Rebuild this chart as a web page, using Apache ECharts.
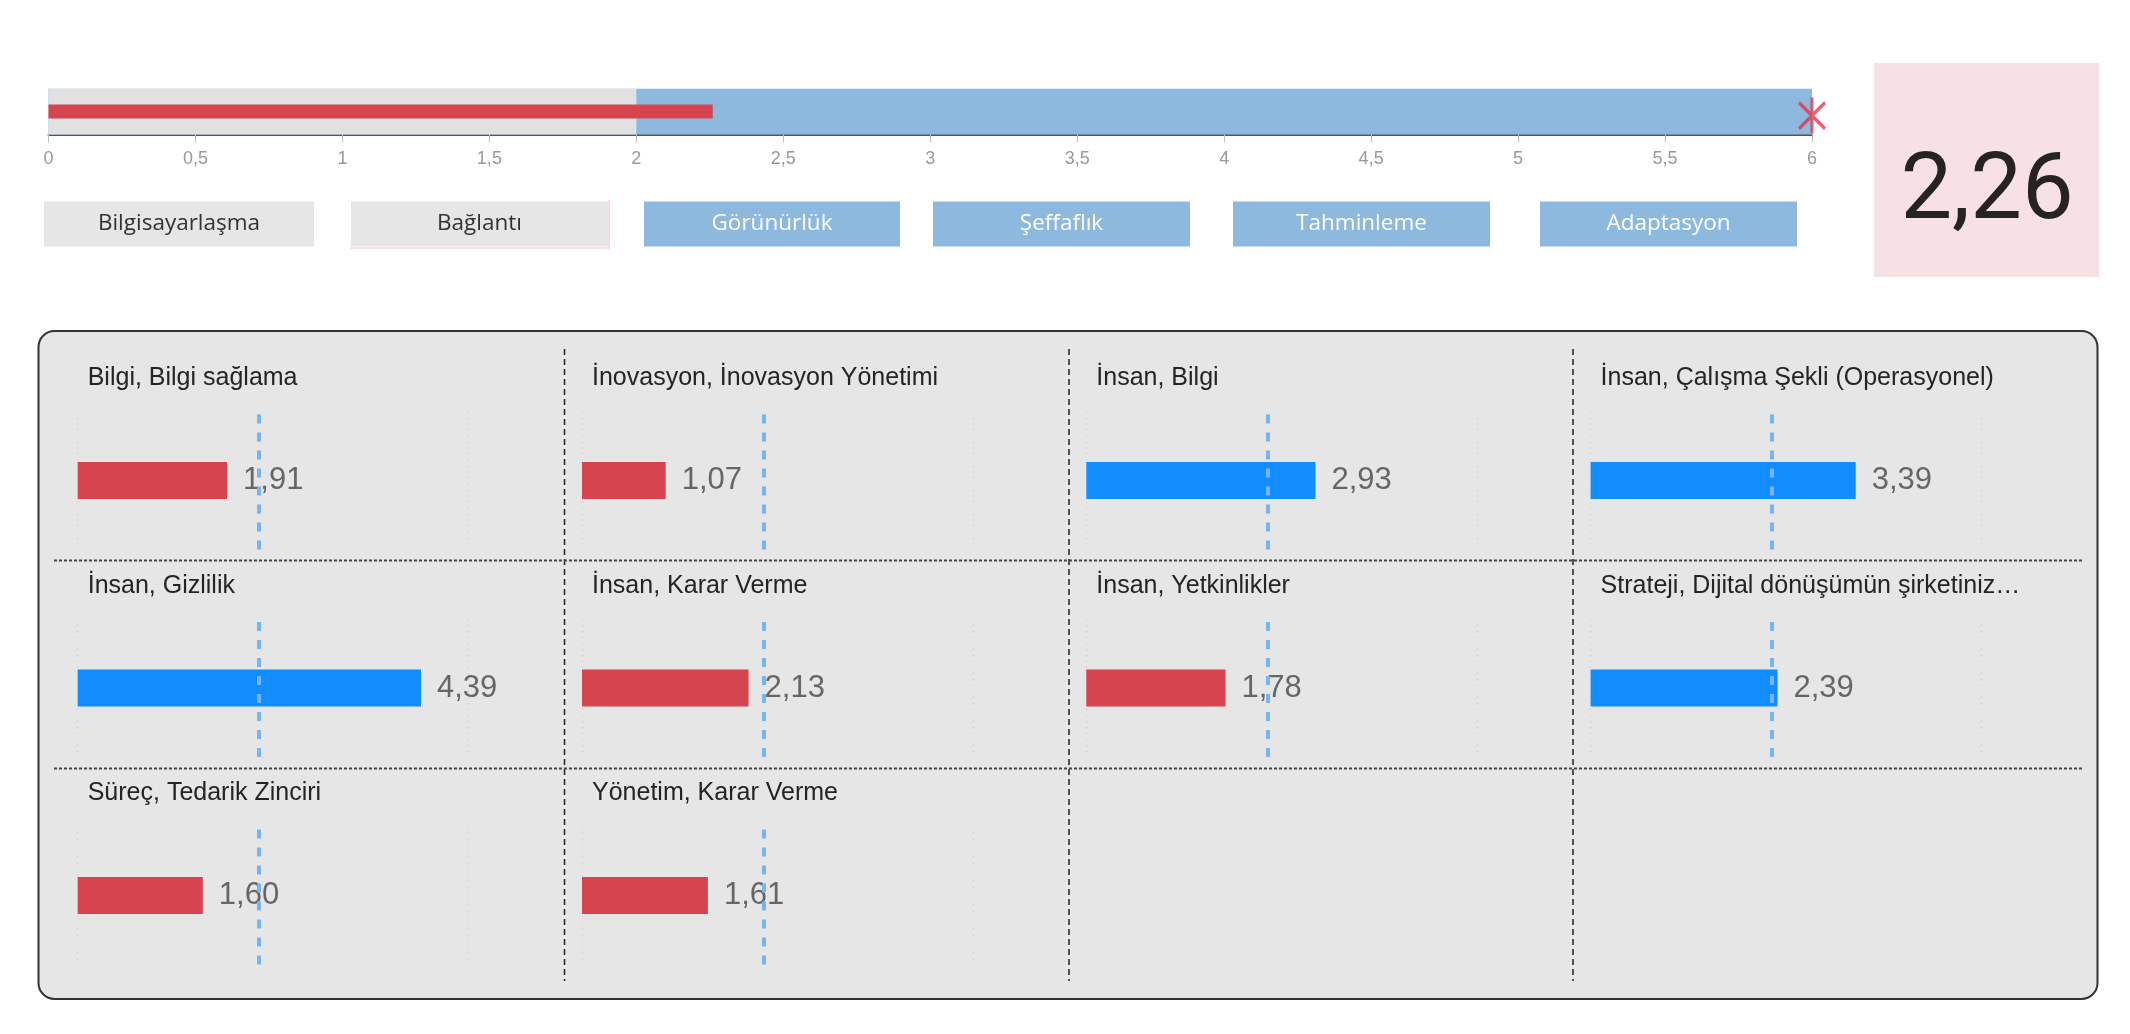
<!doctype html>
<html lang="tr">
<head>
    <meta charset="utf-8"/>
    <title>Dijital Olgunluk</title>
    <script src="https://cdn.jsdelivr.net/npm/echarts@6/dist/echarts.min.js"></script>
    <style>
        html, body { margin: 0; padding: 0; background: #fff; }
        #main { width: 2130px; height: 1034px; }
    </style>
</head>
<body>
<div id="main"></div>
<script>
    // genel skor ve bullet bantlari
    const overallScore = 2.26;
    const targetValue = 6;
    const bandGrey = 2;
    const bandBlue = 6;
    const levels = ['Bilgisayarlaşma', 'Bağlantı', 'Görünürlük', 'Şeffaflık', 'Tahminleme', 'Adaptasyon'];
    const levelReached = [true, true, false, false, false, false];

    // alt paneldeki kucuk grafikler
    const categories = [
        'Bilgi, Bilgi sağlama',
        'İnovasyon, İnovasyon Yönetimi',
        'İnsan, Bilgi',
        'İnsan, Çalışma Şekli (Operasyonel)',
        'İnsan, Gizlilik',
        'İnsan, Karar Verme',
        'İnsan, Yetkinlikler',
        'Strateji, Dijital dönüşümün şirketiniz…',
        'Süreç, Tedarik Zinciri',
        'Yönetim, Karar Verme'
    ];
    const scores = [1.91, 1.07, 2.93, 3.39, 4.39, 2.13, 1.78, 2.39, 1.60, 1.61];
    const averageLine = 2.32;

    const RED = '#d6454f', BLUE = '#118dff', BAND_BLUE = '#8db9df', GREY = '#e1e1e1';
    const comma = v => String(v).replace('.', ',');
    const fix2 = v => v.toFixed(2).replace('.', ',');

    var chart = echarts.init(document.getElementById('main'));

    var grids = [{left: 48.5, top: 88.8, width: 1763.5, height: 45.6}];
    var xAxes = [{
        gridIndex: 0, type: 'value', min: 0, max: 6, interval: 0.5,
        axisLine: {show: true, lineStyle: {color: '#555', width: 2}},
        axisTick: {show: true, length: 8, lineStyle: {color: '#bbb'}},
        axisLabel: {color: '#999', fontSize: 18, fontFamily: 'Liberation Sans', margin: 16, formatter: comma},
        splitLine: {show: false}
    }];
    var yAxes = [
        {gridIndex: 0, type: 'category', data: ['skor'], show: false},
        {gridIndex: 0, type: 'category', data: ['skor'], show: false}
    ];
    var series = [
        {type: 'bar', xAxisIndex: 0, yAxisIndex: 0, data: [bandBlue], barWidth: '100%', barGap: '-100%',
            itemStyle: {color: BAND_BLUE}, silent: true},
        {type: 'bar', xAxisIndex: 0, yAxisIndex: 0, data: [bandGrey], barWidth: '100%', barGap: '-100%',
            itemStyle: {color: GREY}, silent: true},
        {type: 'bar', xAxisIndex: 0, yAxisIndex: 1, data: [overallScore], barWidth: 14,
            itemStyle: {color: RED}, z: 5},
        {type: 'scatter', xAxisIndex: 0, yAxisIndex: 1, data: [[targetValue, 0]],
            symbol: 'path://M0,5L26,31M26,5L0,31M13,0L13,36', symbolSize: [26, 36], symbolOffset: [0, 4],
            itemStyle: {color: 'rgba(0,0,0,0)', borderColor: '#e03a4e', borderWidth: 3.5}, z: 6}
    ];

    var graphics = [];

    // seviye kutucuklari
    var btnX = [[44, 314], [351, 608], [644, 900], [933, 1190], [1233, 1490], [1540, 1797]];
    levels.forEach(function (name, i) {
        var ok = levelReached[i];
        graphics.push({
            type: 'rect', shape: {x: btnX[i][0], y: 201.5, width: btnX[i][1] - btnX[i][0], height: 45},
            style: {fill: ok ? '#e6e6e6' : BAND_BLUE}
        });
        graphics.push({
            type: 'text', x: (btnX[i][0] + btnX[i][1]) / 2, y: 224,
            style: {text: name, fill: ok ? '#333' : '#fff', font: '22.5px "Open Sans", "Noto Sans", sans-serif',
                align: 'center', verticalAlign: 'middle'}
        });
    });
    graphics.push({type: 'polyline', shape: {points: [[350, 248], [609, 248], [609, 200]]},
        style: {stroke: '#f6d3d8', lineWidth: 1.5, fill: 'rgba(0,0,0,0)'}});

    // genel skor kutusu
    graphics.push({type: 'rect', shape: {x: 1874, y: 63, width: 225, height: 214}, style: {fill: '#f8e1e4'}});
    graphics.push({
        type: 'text', x: 1987, y: 195,
        style: {text: fix2(overallScore), fill: '#252423',
            font: '92px "Liberation Sans Narrow", "Roboto", sans-serif',
            align: 'center', verticalAlign: 'middle'}
    });

    // alt panel
    graphics.push({type: 'rect', z: -10, shape: {x: 38.5, y: 331, width: 2059, height: 668, r: 16},
        style: {fill: '#e6e6e6', stroke: '#333', lineWidth: 2}});
    [564.5, 1069, 1573].forEach(function (x) {
        graphics.push({type: 'line', z: -9, shape: {x1: x, y1: 349, x2: x, y2: 981},
            style: {stroke: '#222', lineWidth: 1.5, lineDash: [6, 4]}});
    });
    [560.5, 768.5].forEach(function (y) {
        graphics.push({type: 'line', z: -9, shape: {x1: 54, y1: y, x2: 2082, y2: y},
            style: {stroke: '#444', lineWidth: 2, lineDash: [3, 2]}});
    });

    var unit = 78.2;
    categories.forEach(function (name, i) {
        var row = Math.floor(i / 4), col = i % 4;
        var ox = 77.7 + col * 504.3;
        var cy = 480.5 + row * 207.5;
        var gi = i + 1;
        grids.push({left: ox, top: cy - 69, width: unit * 5, height: 138});
        xAxes.push({
            gridIndex: gi, type: 'value', min: 0, max: 5, interval: 5,
            axisLine: {show: false}, axisTick: {show: false}, axisLabel: {show: false},
            splitLine: {show: true, lineStyle: {color: '#c8c8c8', type: [1, 5], width: 1}}
        });
        yAxes.push({gridIndex: gi, type: 'category', data: [name], show: false});
        series.push({
            type: 'bar', xAxisIndex: xAxes.length - 1, yAxisIndex: yAxes.length - 1,
            data: [scores[i]], barWidth: 37,
            itemStyle: {color: scores[i] < averageLine ? RED : BLUE},
            label: {show: true, position: 'right', distance: 16, color: '#666', fontSize: 31,
                fontFamily: 'Liberation Sans', formatter: function (p) { return fix2(p.value); }},
            markLine: {
                silent: true, symbol: 'none', label: {show: false},
                lineStyle: {color: '#74b5f2', width: 4, type: [9, 9]},
                data: [{xAxis: averageLine}]
            },
            z: 3
        });
        graphics.push({
            type: 'text', x: ox + 10, y: cy - 102,
            style: {text: name, fill: '#252423', font: '25px "Liberation Sans", Arial, sans-serif',
                align: 'left', verticalAlign: 'middle'}
        });
    });

    chart.setOption({
        animation: false,
        grid: grids,
        xAxis: xAxes,
        yAxis: yAxes,
        series: series,
        graphic: {elements: graphics}
    });

    window.onresize = function () {
        chart.resize();
    };
</script>
</body>
</html>
